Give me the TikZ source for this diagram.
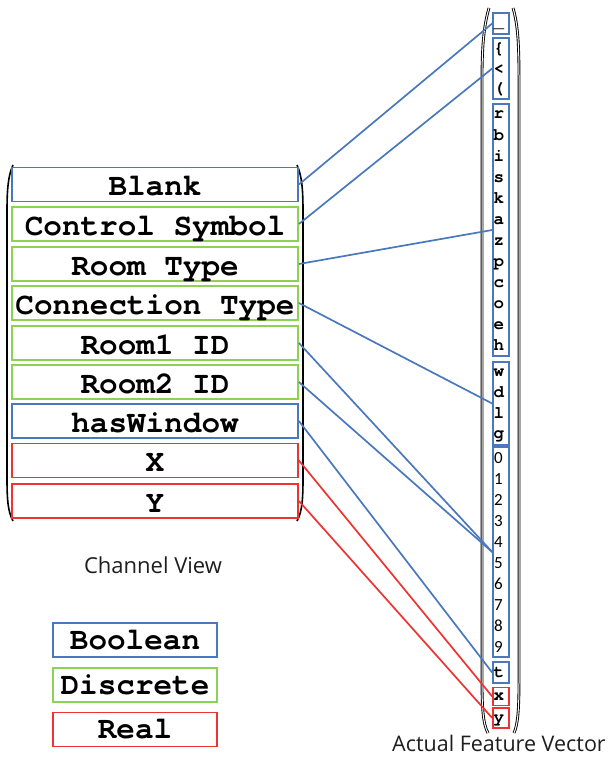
\documentclass[tikz,border=0pt]{standalone}
\usepackage{fontspec}
\setmainfont{Open Sans}
\newfontfamily\monofont[Extension=.otf, UprightFont=*-regular, BoldFont=*-bold]{texgyrecursor}
\newfontfamily\digitfont{Carlito}
\definecolor{boolblue}{HTML}{4A78BC}
\definecolor{discgreen}{HTML}{8CD254}
\definecolor{realred}{HTML}{EE3333}
\definecolor{captext}{HTML}{1E1E1E}

\tikzset{
  field/.style={draw, line width=1.8pt, minimum width=286pt, minimum height=34pt,
    inner sep=0pt, text height=28pt, text depth=6pt,
    font=\monofont\bfseries\fontsize{31}{31}\selectfont},
  legendbox/.style={field, minimum width=164pt, text height=26pt, text depth=8pt},
  vgrp/.style={draw, line width=1.6pt, minimum width=16pt, inner sep=0pt},
  vch/.style={anchor=base west, inner sep=0pt, font=\monofont\bfseries\fontsize{17.5}{17.5}\selectfont},
  vdig/.style={anchor=base west, inner sep=0pt, xshift=0.5pt, font=\digitfont\fontsize{17}{17}\selectfont},
  bracket/.style={draw=black, line width=1.6pt},
  vbracket/.style={draw=black, line width=0.9pt, double=white, double distance=1pt},
  link/.style={line width=1.7pt},
  caption/.style={font=\fontsize{22}{22}\selectfont, text=captext, inner sep=0pt}
}

\begin{document}
\begin{tikzpicture}[x=1pt,y=-1pt]
\useasboundingbox (0,0) rectangle (614,757);

% brackets around the channel view
\draw[bracket] (13,165) .. controls (8,176) and (7,190) .. (7,212) -- (7,478)
  .. controls (7,500) and (8,512) .. (13,521);
\draw[bracket] (297,165) .. controls (302,176) and (303,190) .. (303,212) -- (303,478)
  .. controls (303,500) and (302,512) .. (297,521);

% brackets around the feature vector
\draw[vbracket] (489,8) .. controls (484,25) and (482,45) .. (482,80) -- (482,680)
  .. controls (482,708) and (483,724) .. (488,733);
\draw[vbracket] (513,8) .. controls (518,25) and (519,45) .. (519,80) -- (519,680)
  .. controls (519,708) and (518,724) .. (514,733);

% channel view fields
\node[field, draw=boolblue]  (blank) at (155,184.5) {Blank};
\node[field, draw=discgreen] (ctrl)  at (155,224)   {Control Symbol\hspace{0.6em}};
\node[field, draw=discgreen] (room)  at (155,264)   {Room Type};
\node[field, draw=discgreen] (conn)  at (155,303)   {Connection Type};
\node[field, draw=discgreen] (roma)  at (155,343)   {Room1 ID};
\node[field, draw=discgreen] (romb)  at (155,382)   {Room2 ID};
\node[field, draw=boolblue]  (win)   at (155,421)   {hasWindow};
\node[field, draw=realred]   (xpos)  at (155,460.5) {X};
\node[field, draw=realred]   (ypos)  at (155,501)   {Y};

\node[caption] (chcap) at (153,565) {Channel View};

% legend
\node[legendbox, draw=boolblue]  (lbool) at (135,640) {Boolean};
\node[legendbox, draw=discgreen] (ldisc) at (135,685) {Discrete};
\node[legendbox, draw=realred]   (lreal) at (135,729.5) {Real};

% feature vector groups
\node[vgrp, draw=boolblue, minimum height=21pt]  (g1) at (501,23.5) {};
\node[vgrp, draw=boolblue, minimum height=61pt]  (g2) at (501,68.5) {};
\node[vgrp, draw=boolblue, minimum height=252pt] (g3) at (501,230) {};
\node[vgrp, draw=boolblue, minimum height=83pt]  (g4) at (501,403.5) {};
\node[vgrp, draw=boolblue, minimum height=210pt] (g5) at (501,552) {};
\node[vgrp, draw=boolblue, minimum height=21pt]  (g6) at (501,672.5) {};
\node[vgrp, draw=realred, minimum height=18pt]   (g7) at (501,696.5) {};
\node[vgrp, draw=realred, minimum height=20pt]   (g8) at (501,718) {};

% feature vector symbols
\node[vch] at (493.5,28) {\_};
\node[vch] at (493.5,54) {\{};
\node[vch] at (493.5,74) {<};
\node[vch] at (493.5,94) {(};
\foreach \c [count=\k from 0] in {r,b,i,s,k,a,z,p,c,o,e,h}
  \node[vch] at (493.5,{104+21*\k+15}) {\c};
\foreach \c [count=\k from 0] in {w,d,l,g}
  \node[vch] at (493.5,{362+20.75*\k+14.5}) {\c};
\foreach \c [count=\k from 0] in {0,1,2,3,4,5,6,7,8,9}
  \node[vdig] at (493.5,{447+21*\k+16}) {\c};
\node[vch] at (493.5,677) {t};
\node[vch] at (493.5,700) {x};
\node[vch] at (493.5,722) {y};

\node[caption, font=\fontsize{21.5}{21.5}\selectfont] (fvcap) at (499,743) {Actual Feature Vector};

% connectors from channels to vector entries
\draw[link, boolblue] (blank.east) -- (g1.west);
\draw[link, boolblue] (ctrl.east)  -- (g2.west);
\draw[link, boolblue] (room.east)  -- (g3.west);
\draw[link, boolblue] (conn.east)  -- (g4.west);
\draw[link, boolblue] (roma.east)  -- (g5.west);
\draw[link, boolblue] (romb.east)  -- (g5.west);
\draw[link, boolblue] (win.east)   -- (g6.west);
\draw[link, realred]  (xpos.east)  -- (g7.west);
\draw[link, realred]  (ypos.east)  -- (g8.west);
\end{tikzpicture}
\end{document}
